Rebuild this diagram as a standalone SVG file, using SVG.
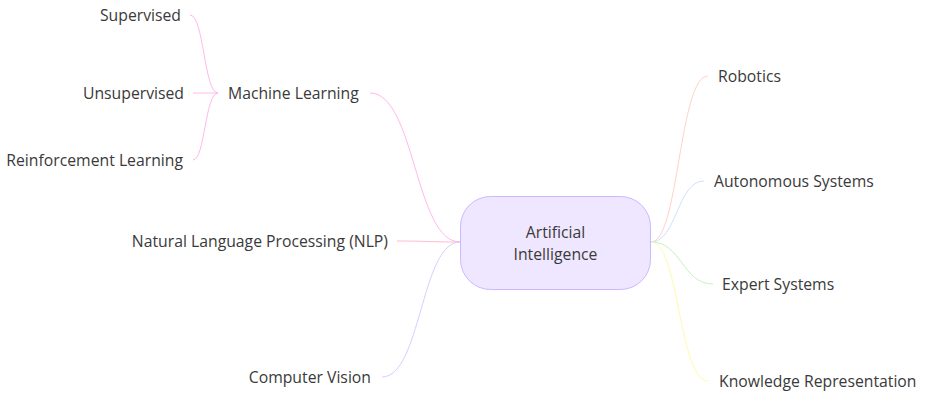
<svg xmlns="http://www.w3.org/2000/svg" width="925" height="403" viewBox="0 0 925 403">
<style>
  text { font-family: "Open Sans", "Noto Sans", "DejaVu Sans", sans-serif; font-size: 15.75px; fill: #3a3a3a; }
  .e { fill: none; stroke-width: 1; }
  .s0 { stroke: #ffb8ee; }
  .s1 { stroke: #ffb8d4; }
  .s2 { stroke: #dccbff; }
  .s3 { stroke: #ffd2c6; }
  .s4 { stroke: #cfe0ff; }
  .s5 { stroke: #c8f0c2; }
  .s6 { stroke: #fffaae; }
  .r { text-anchor: end; }
  .m { text-anchor: middle; }
</style>
<rect width="925" height="403" fill="#ffffff"/>
<g id="connectors">
  <path class="e s0" d="M370,93 C415,93 415,242 460,242"/>
  <path class="e s0" d="M190,15 C204,15 204,93 218,93"/>
  <path class="e s0" d="M193,93 L218,93"/>
  <path class="e s0" d="M193,160 C205,160 205,93 218,93"/>
  <path class="e s1" d="M397,241 C428,241 428,242 460,242"/>
  <path class="e s2" d="M382,377 C421,377 421,242 460,242"/>
  <path class="e s3" d="M708,76 C679,76 679,242 651,242"/>
  <path class="e s4" d="M704,181 C677,181 677,242 651,242"/>
  <path class="e s5" d="M713,284 C682,284 682,242 651,242"/>
  <path class="e s6" d="M708,381 C679,381 679,242 651,242"/>
</g>
<g id="root">
  <rect x="460.5" y="196.5" width="190" height="93" rx="30" ry="30" fill="#efe7ff" stroke="#cdb8ff" stroke-width="1"/>
  <text class="m" x="555.5" y="238">Artificial</text>
  <text class="m" x="555.5" y="260">Intelligence</text>
</g>
<g id="ml"><text x="228" y="99">Machine Learning</text></g>
<g id="supervised"><text class="r" x="181" y="21">Supervised</text></g>
<g id="unsupervised"><text class="r" x="184" y="99">Unsupervised</text></g>
<g id="reinforcement"><text class="r" x="183" y="166">Reinforcement Learning</text></g>
<g id="nlp"><text class="r" x="388" y="247">Natural Language Processing (NLP)</text></g>
<g id="cv"><text class="r" x="371" y="383">Computer Vision</text></g>
<g id="robotics"><text x="718" y="82">Robotics</text></g>
<g id="autonomous"><text x="714" y="187">Autonomous Systems</text></g>
<g id="expert"><text x="722" y="290">Expert Systems</text></g>
<g id="knowledge"><text x="719" y="387">Knowledge Representation</text></g>
</svg>
